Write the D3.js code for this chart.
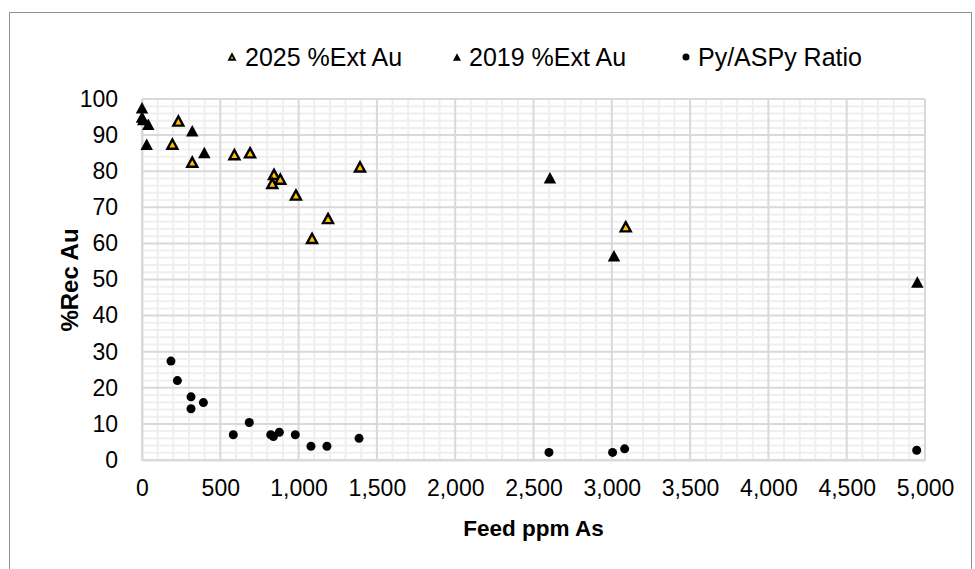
<!DOCTYPE html>
<html><head><meta charset="utf-8">
<script src="https://cdn.jsdelivr.net/npm/d3@7"></script>
<style>body{margin:0;background:#fff}svg{display:block;font-family:"Liberation Sans",Arial,sans-serif}</style>
</head><body><svg id="c" width="975" height="569"></svg>
<script>
// ---- data ----
const ext2025X = [232, 194, 321, 590, 690, 843, 883, 832, 983, 1188, 1086, 1392, 3089];
const ext2025Y = [93.9, 87.5, 82.5, 84.6, 85.1, 79.1, 77.8, 76.6, 73.4, 66.9, 61.4, 81.2, 64.6];
const ext2019X = [0, 0, 8, 40, 30, 321, 398, 2605, 3014, 4951];
const ext2019Y = [97.6, 95.0, 94.3, 93.0, 87.5, 91.2, 85.2, 78.2, 56.6, 49.3];
const ratioX = [185, 226, 313, 313, 392, 583, 685, 822, 839, 877, 979, 1079, 1181, 1386, 2599, 3005, 3082, 4947];
const ratioY = [27.4, 22.0, 17.5, 14.2, 15.9, 7.0, 10.4, 7.0, 6.5, 7.7, 7.0, 3.8, 3.8, 6.0, 2.1, 2.1, 3.1, 2.7];
const xTicks = [0, 500, 1000, 1500, 2000, 2500, 3000, 3500, 4000, 4500, 5000];
const yTicks = [0, 10, 20, 30, 40, 50, 60, 70, 80, 90, 100];
const seriesNames = ["2025 %Ext Au", "2019 %Ext Au", "Py/ASPy Ratio"];
const xTitle = "Feed ppm As", yTitle = "%Rec Au";

const svg = d3.select("#c");
const L = 142, R = 925, T = 99, B = 460;
const x = d3.scaleLinear().domain([0, 5000]).range([L, R]);
const y = d3.scaleLinear().domain([0, 100]).range([B, T]);

// outer dotted border
svg.append("rect").attr("x", 9.5).attr("y", 12.5).attr("width", 962).attr("height", 600)
  .attr("fill", "none").attr("stroke", "#222").attr("stroke-width", 1).attr("stroke-dasharray", "1,1");

const grid = svg.append("g");
// minor grid
d3.range(0, 5001, 100).filter(v => v % 500).forEach(v =>
  grid.append("line").attr("x1", x(v)).attr("x2", x(v)).attr("y1", T).attr("y2", B)
    .attr("stroke", "#efefef").attr("stroke-width", 2));
d3.range(0, 101, 2).filter(v => v % 10).forEach(v =>
  grid.append("line").attr("y1", y(v)).attr("y2", y(v)).attr("x1", L).attr("x2", R)
    .attr("stroke", "#efefef").attr("stroke-width", 2));
// major grid
xTicks.forEach(v => grid.append("line").attr("x1", x(v)).attr("x2", x(v)).attr("y1", T).attr("y2", B)
  .attr("stroke", "#d9d9d9").attr("stroke-width", 2));
yTicks.forEach(v => grid.append("line").attr("y1", y(v)).attr("y2", y(v)).attr("x1", L).attr("x2", R)
  .attr("stroke", "#d9d9d9").attr("stroke-width", 2));

// axes
const fmt = d3.format(",");
const xa = svg.append("g").attr("transform", `translate(0,${B})`)
  .call(d3.axisBottom(x).tickValues(xTicks).tickFormat(fmt).tickSize(0).tickPadding(20));
xa.select(".domain").attr("stroke", "#d9d9d9").attr("stroke-width", 2);
xa.selectAll("text").attr("font-size", 23).attr("fill", "#000").attr("font-family", "Liberation Sans");
const ya = svg.append("g").attr("transform", `translate(${L},0)`)
  .call(d3.axisLeft(y).tickValues(yTicks).tickSize(0).tickPadding(24));
ya.select(".domain").attr("stroke", "#d9d9d9").attr("stroke-width", 2);
ya.selectAll("text").attr("font-size", 23).attr("fill", "#000").attr("font-family", "Liberation Sans");

// titles
svg.append("text").attr("x", (L + R) / 2).attr("y", 536).attr("text-anchor", "middle")
  .attr("font-size", 22.5).attr("font-weight", "bold").text(xTitle);
svg.append("text").attr("transform", "translate(78,280) rotate(-90)").attr("text-anchor", "middle")
  .attr("font-size", 24).attr("font-weight", "bold").text(yTitle);

// markers
function tri(w) { const h = w * 0.92; return `M0,${-h/2}L${w/2},${h/2}L${-w/2},${h/2}Z`; }
const pts = svg.append("g");
pts.selectAll(".r").data(d3.range(ratioX.length)).join("circle")
  .attr("cx", i => x(ratioX[i])).attr("cy", i => y(ratioY[i])).attr("r", 4.5).attr("fill", "#000");
pts.selectAll(".b").data(d3.range(ext2019X.length)).join("path")
  .attr("transform", i => `translate(${x(ext2019X[i])},${y(ext2019Y[i])})`)
  .attr("d", tri(12.5)).attr("fill", "#000");
pts.selectAll(".g").data(d3.range(ext2025X.length)).join("path")
  .attr("transform", i => `translate(${x(ext2025X[i])},${y(ext2025Y[i])})`)
  .attr("d", tri(10)).attr("fill", "#ffc000").attr("stroke", "#000").attr("stroke-width", 2.4)
  .attr("stroke-linejoin", "miter");

// legend
const lg = svg.append("g").attr("font-size", 25);
const lx = [232, 457, 686];
const tx = [245, 469, 698];
lg.append("path").attr("transform", `translate(${lx[0]},57)`).attr("d", tri(6))
  .attr("fill", "#ffc000").attr("stroke", "#000").attr("stroke-width", 1.8);
lg.append("path").attr("transform", `translate(${lx[1]},57)`).attr("d", tri(8)).attr("fill", "#000");
lg.append("circle").attr("cx", lx[2]).attr("cy", 57).attr("r", 3.5).attr("fill", "#000");
seriesNames.forEach((s, i) => lg.append("text").attr("x", tx[i]).attr("y", 66).text(s));
</script></body></html>
